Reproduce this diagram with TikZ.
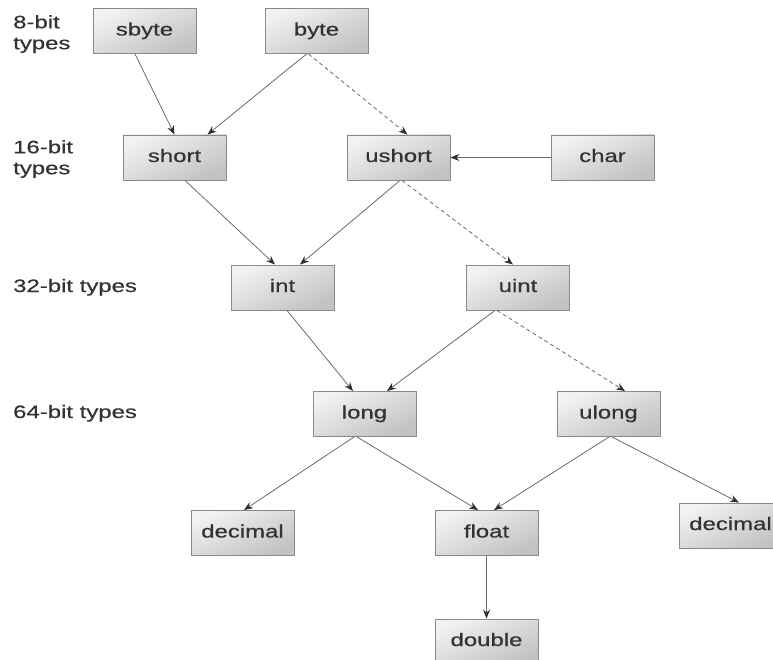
\documentclass[tikz,border=0pt]{standalone}
\usepackage{fontspec}
\setmainfont{Liberation Sans}[FakeStretch=1.33, FakeBold=0.5]
\usetikzlibrary{arrows.meta}

\definecolor{boxline}{HTML}{8A8A8A}
\definecolor{boxlight}{HTML}{F2F2F2}
\definecolor{boxdark}{HTML}{C2C2C2}
\definecolor{wire}{HTML}{6A6A6A}
\definecolor{tip}{HTML}{2E2E2E}
\definecolor{ink}{HTML}{333333}

\tikzset{
  typebox/.style={draw=boxline, line width=0.9pt,
    top color=boxlight, bottom color=boxdark, shading angle=25,
    minimum width=103pt, minimum height=45pt, inner sep=0pt,
    text height=12.5pt, text depth=3.5pt, text=ink,
    font=\fontsize{18pt}{21pt}\selectfont},
  sizelabel/.style={inner sep=0pt, align=left, text=ink,
    font=\fontsize{18pt}{21pt}\selectfont},
  conv/.style={draw=wire, line width=0.8pt,
    -{Stealth[length=9pt,width=7pt,inset=3pt,color=tip]}},
  convdash/.style={conv, dash pattern=on 4pt off 3pt},
}

\begin{document}
\begin{tikzpicture}[x=1pt, y=-1pt]
  \useasboundingbox (0,0) rectangle (773,660);
  \clip (0,0) rectangle (773,660);

  % size labels on the left
  \node[sizelabel, anchor=north west] (l8)  at (13,15)  {8-bit\\types};
  \node[sizelabel, anchor=north west] (l16) at (13,140) {16-bit\\types};
  \node[sizelabel, anchor=base west]  (l32) at (13,292) {32-bit types};
  \node[sizelabel, anchor=base west]  (l64) at (13,418) {64-bit types};

  % type boxes
  \node[typebox] (sbyte)  at (144.5,31)   {sbyte};
  \node[typebox] (byte)   at (316.5,31)   {byte};
  \node[typebox] (short)  at (174.5,157.5) {short};
  \node[typebox] (ushort) at (398.5,157.5) {ushort};
  \node[typebox] (char)   at (602.5,157.5) {char};
  \node[typebox] (int)    at (282.5,287.5) {int};
  \node[typebox] (uint)   at (518,287.5)   {uint};
  \node[typebox] (long)   at (364.5,414)   {long};
  \node[typebox] (ulong)  at (608.5,414)   {ulong};
  \node[typebox] (decA)   at (242.5,533)   {decimal};
  \node[typebox] (float)  at (486.5,533)   {float};
  \node[typebox] (decB)   at (730.5,525.5) {decimal};
  \node[typebox] (double) at (486.5,641.5) {double};

  % implicit conversions
  \draw[conv] ([xshift=-9.5pt]sbyte.south) -- (short.north);
  \draw[conv] ([xshift=-10pt]byte.south) -- ([xshift=33pt]short.north);
  \draw[convdash] ([xshift=-8pt]byte.south) -- ([xshift=9pt]ushort.north);
  \draw[conv] (char.west) -- (ushort.east);
  \draw[conv] ([xshift=10.5pt]short.south) -- ([xshift=-7.5pt]int.north);
  \draw[conv] ([xshift=1.5pt]ushort.south) -- ([xshift=17.5pt]int.north);
  \draw[convdash] ([xshift=3.5pt]ushort.south) -- ([xshift=-5pt]uint.north);
  \draw[conv] ([xshift=4.5pt]int.south) -- ([xshift=-11.5pt]long.north);
  \draw[conv] ([xshift=-23pt]uint.south) -- ([xshift=22.5pt]long.north);
  \draw[convdash] ([xshift=-21pt]uint.south) -- ([xshift=16.5pt]ulong.north);
  \draw[conv] ([xshift=-10.5pt]long.south) -- ([xshift=1.5pt]decA.north);
  \draw[conv] ([xshift=-7.5pt]long.south) -- ([xshift=-8.5pt]float.north);
  \draw[conv] ([xshift=0.5pt]ulong.south) -- ([xshift=7.5pt]float.north);
  \draw[conv] ([xshift=3.5pt]ulong.south) -- ([xshift=8.5pt]decB.north);
  \draw[conv] (float.south) -- (double.north);
\end{tikzpicture}
\end{document}
